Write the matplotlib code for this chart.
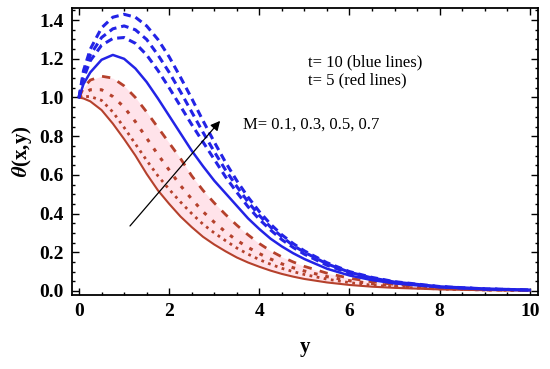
import matplotlib

matplotlib.use("Agg")
import matplotlib.pyplot as plt
from matplotlib.ticker import MultipleLocator

# sample positions along y
y_pts = [0, 0.1, 0.25, 0.5, 0.75, 1.0, 1.25, 1.5, 1.75, 2.0, 2.25, 2.5, 2.75, 3.0,
         3.25, 3.5, 3.75, 4.0, 4.25, 4.5, 4.75, 5.0, 5.5, 6.0, 6.5, 7.0, 8.0, 9.0, 10.0]

# t = 10 (blue lines), M = 0.1, 0.3, 0.5, 0.7
blue_m01 = [1.00, 1.07, 1.13, 1.195, 1.22, 1.20, 1.15, 1.08, 0.995, 0.905, 0.815, 0.725, 0.645, 0.57,
            0.505, 0.44, 0.375, 0.32, 0.27, 0.23, 0.195, 0.165, 0.115, 0.08, 0.056, 0.039, 0.019, 0.009, 0.004]
blue_m03 = [1.00, 1.10, 1.19, 1.27, 1.305, 1.31, 1.28, 1.22, 1.14, 1.05, 0.955, 0.86, 0.77, 0.68,
            0.59, 0.51, 0.435, 0.37, 0.315, 0.265, 0.225, 0.19, 0.133, 0.092, 0.063, 0.043, 0.021, 0.010, 0.005]
blue_m05 = [1.00, 1.12, 1.22, 1.31, 1.355, 1.37, 1.35, 1.30, 1.22, 1.13, 1.03, 0.925, 0.82, 0.72,
            0.625, 0.54, 0.46, 0.39, 0.33, 0.28, 0.235, 0.20, 0.14, 0.097, 0.067, 0.046, 0.022, 0.011, 0.005]
blue_m07 = [1.00, 1.14, 1.25, 1.36, 1.415, 1.43, 1.415, 1.37, 1.30, 1.21, 1.105, 0.995, 0.88, 0.77,
            0.665, 0.57, 0.485, 0.41, 0.345, 0.29, 0.245, 0.207, 0.146, 0.10, 0.07, 0.048, 0.023, 0.011, 0.005]

# t = 5 (red lines), M = 0.1, 0.3, 0.5, 0.7
red_m01 = [1.00, 0.995, 0.98, 0.935, 0.865, 0.785, 0.70, 0.605, 0.52, 0.45, 0.385, 0.33, 0.28, 0.24,
           0.205, 0.173, 0.147, 0.125, 0.105, 0.088, 0.074, 0.062, 0.044, 0.031, 0.022, 0.016, 0.008, 0.004, 0.002]
red_m03 = [1.00, 1.005, 1.005, 0.985, 0.925, 0.845, 0.76, 0.675, 0.595, 0.525, 0.46, 0.40, 0.345, 0.30,
           0.26, 0.222, 0.19, 0.162, 0.138, 0.117, 0.10, 0.085, 0.061, 0.043, 0.030, 0.021, 0.010, 0.005, 0.0025]
red_m05 = [1.00, 1.02, 1.04, 1.04, 1.005, 0.95, 0.875, 0.79, 0.705, 0.625, 0.545, 0.475, 0.41, 0.355,
           0.305, 0.262, 0.225, 0.193, 0.165, 0.14, 0.12, 0.103, 0.074, 0.053, 0.038, 0.027, 0.013, 0.006, 0.003]
red_m07 = [1.00, 1.05, 1.09, 1.11, 1.10, 1.06, 1.00, 0.925, 0.845, 0.765, 0.685, 0.595, 0.52, 0.455,
           0.395, 0.34, 0.29, 0.245, 0.207, 0.176, 0.15, 0.127, 0.092, 0.066, 0.047, 0.034, 0.017, 0.008, 0.004]

BLUE = "#2323e6"
RED = "#b5412c"

plt.rcParams["font.family"] = ["Liberation Serif", "DejaVu Serif"]
plt.rcParams["mathtext.fontset"] = "stix"

fig = plt.figure(figsize=(5.5, 3.69), dpi=100)
ax = fig.add_axes([0.131, 0.2005, 0.847, 0.7775])

# faint pink glow between red curves
ax.fill_between(y_pts, red_m01, red_m07, color="#ffe3ea", lw=0, zorder=1)

ax.plot(y_pts, red_m01, color=RED, lw=1.5, zorder=3)
ax.plot(y_pts, red_m03, color=RED, lw=2.0, ls=(0, (1, 1.6)), zorder=3)
ax.plot(y_pts, red_m05, color=RED, lw=2.2, ls=(0, (1.2, 2.6)), zorder=3)
ax.plot(y_pts, red_m07, color=RED, lw=2.0, ls=(0, (3, 3)), zorder=3)

ax.plot(y_pts, blue_m01, color=BLUE, lw=1.8, zorder=4)
ax.plot(y_pts, blue_m03, color=BLUE, lw=2.2, ls=(0, (2.5, 1.6)), zorder=4)
ax.plot(y_pts, blue_m05, color=BLUE, lw=2.2, ls=(0, (2.5, 1.6)), zorder=4)
ax.plot(y_pts, blue_m07, color=BLUE, lw=2.2, ls=(0, (2.5, 1.6)), zorder=4)

ax.annotate("", xy=(3.17, 0.89), xytext=(1.09, 0.325),
            arrowprops=dict(arrowstyle="-|>", color="black", lw=0.9,
                            mutation_scale=14), zorder=5)
ax.text(3.64, 0.86, "M= 0.1, 0.3, 0.5, 0.7", fontsize=12, va="center", ha="left")
ax.text(5.08, 1.18, "t= 10 (blue lines)", fontsize=12, va="center", ha="left")
ax.text(5.08, 1.09, "t= 5 (red lines)", fontsize=12, va="center", ha="left")

ax.set_xlim(-0.155, 10.18)
ax.set_ylim(-0.021, 1.462)
ax.xaxis.set_major_locator(MultipleLocator(2))
ax.xaxis.set_minor_locator(MultipleLocator(0.5))
ax.yaxis.set_major_locator(MultipleLocator(0.2))
ax.yaxis.set_minor_locator(MultipleLocator(0.05))
ax.yaxis.set_major_formatter(plt.FormatStrFormatter("%.1f"))
ax.tick_params(which="both", direction="in", top=True, right=True, width=1.0)
ax.tick_params(which="major", length=5, labelsize=14, pad=6)
ax.tick_params(which="minor", length=2.5)
for lbl in ax.get_xticklabels() + ax.get_yticklabels():
    lbl.set_fontweight("bold")
for sp in ax.spines.values():
    sp.set_linewidth(1.3)

ax.set_xlabel("y", fontsize=15, fontweight="bold", labelpad=12)
ax.set_ylabel(r"$\boldsymbol{\theta}$(x,y)", fontsize=15, fontweight="bold", labelpad=4)

fig.savefig("out.png", dpi=100)
